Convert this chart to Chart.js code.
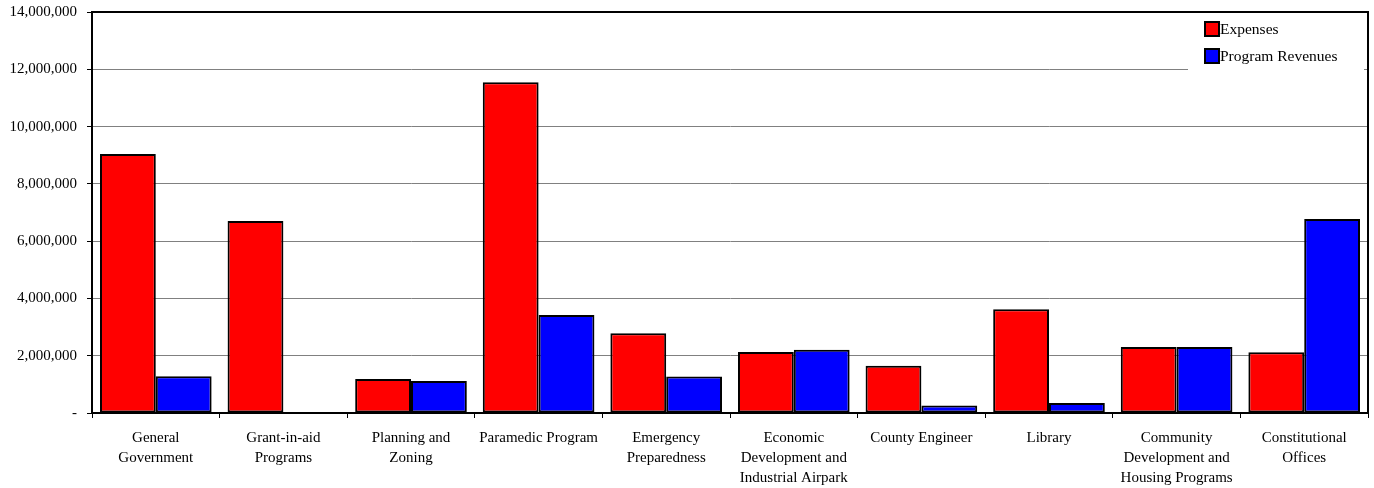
<!DOCTYPE html>
<html>
<head>
<meta charset="utf-8">
<script src="https://cdn.jsdelivr.net/npm/chart.js@4/dist/chart.umd.min.js"></script>
<style>
  html, body { margin: 0; padding: 0; background: #fff; }
  #wrap { width: 1374px; height: 488px; }
</style>
</head>
<body>
<div id="wrap"><canvas id="c" width="1374" height="488"></canvas></div>
<script>
// Program expenses vs. program revenues by function
const categories = [
  ["General", "Government"],
  ["Grant-in-aid", "Programs"],
  ["Planning and", "Zoning"],
  ["Paramedic Program"],
  ["Emergency", "Preparedness"],
  ["Economic", "Development and", "Industrial Airpark"],
  ["County Engineer"],
  ["Library"],
  ["Community", "Development and", "Housing Programs"],
  ["Constitutional", "Offices"]
];
const expenses = [9040000, 6700000, 1190000, 11550000, 2780000, 2130000, 1650000, 3620000, 2300000, 2120000];
const programRevenues = [1280000, 0, 1120000, 3420000, 1270000, 2210000, 260000, 350000, 2300000, 6770000];
const yTicks = [0, 2000000, 4000000, 6000000, 8000000, 10000000, 12000000, 14000000];

const FONT = "'Liberation Serif', 'Times New Roman', serif";

// Frame on top/right of the plot area plus the inset legend box
const framePlugin = {
  id: 'frame',
  afterDatasetsDraw(chart) {
    const { ctx, chartArea: a } = chart;
    ctx.save();
    // legend box (white, covers gridline)
    const lx = 1188, ly = a.top + 1, lw = a.right - 4 - lx, lh = 58;
    ctx.fillStyle = '#fff';
    ctx.fillRect(lx, ly, lw, lh);
    ctx.font = '15.5px ' + FONT;
    ctx.textBaseline = 'middle';
    ctx.textAlign = 'left';
    chart.data.datasets.forEach((ds, i) => {
      const y = 29 + i * 27;
      ctx.fillStyle = ds.backgroundColor;
      ctx.fillRect(1205, y - 7, 14, 14);
      ctx.strokeStyle = '#000';
      ctx.lineWidth = 2;
      ctx.strokeRect(1205, y - 7, 14, 14);
      ctx.fillStyle = '#000';
      ctx.fillText(ds.label, 1220, y + 1);
    });
    // outer frame
    ctx.strokeStyle = '#000';
    ctx.lineWidth = 2;
    ctx.beginPath();
    ctx.moveTo(a.left, a.top);
    ctx.lineTo(a.right, a.top);
    ctx.lineTo(a.right, a.bottom);
    ctx.stroke();
    ctx.restore();
  }
};

new Chart(document.getElementById('c'), {
  type: 'bar',
  data: {
    labels: categories,
    datasets: [
      { label: 'Expenses', data: expenses, backgroundColor: '#ff0000', borderColor: '#000', borderWidth: 2, borderSkipped: false },
      { label: 'Program Revenues', data: programRevenues, backgroundColor: '#0000ff', borderColor: '#000', borderWidth: 2, borderSkipped: false }
    ]
  },
  options: {
    responsive: false,
    animation: false,
    devicePixelRatio: 1,
    layout: { padding: { top: 12, right: 6, left: 0, bottom: 0 } },
    plugins: {
      legend: { display: false },
      tooltip: { enabled: false }
    },
    datasets: { bar: { categoryPercentage: 0.875, barPercentage: 1.0 } },
    scales: {
      x: {
        grid: { display: true, drawOnChartArea: false, tickLength: 5, tickColor: '#000', tickWidth: 1 },
        border: { display: true, color: '#000', width: 2 },
        ticks: {
          color: '#000',
          font: { family: FONT, size: 15, lineHeight: 1.33 },
          padding: 10,
          maxRotation: 0,
          autoSkip: false
        },
        afterFit(scale) { scale.height = 75; }
      },
      y: {
        min: 0,
        max: 14000000,
        afterBuildTicks(scale) { scale.ticks = yTicks.map(v => ({ value: v })); },
        grid: { color: '#808080', lineWidth: 1, tickLength: 5, tickColor: '#000' },
        border: { display: true, color: '#000', width: 2 },
        ticks: {
          color: '#000',
          font: { family: FONT, size: 15 },
          padding: 10,
          callback(v) { return v === 0 ? '-' : v.toLocaleString('en-US'); }
        },
        afterFit(scale) {
          scale.width = 92;
          scale.paddingTop = 0;
          scale.paddingBottom = 0;
        }
      }
    }
  },
  plugins: [framePlugin]
});
</script>
</body>
</html>
